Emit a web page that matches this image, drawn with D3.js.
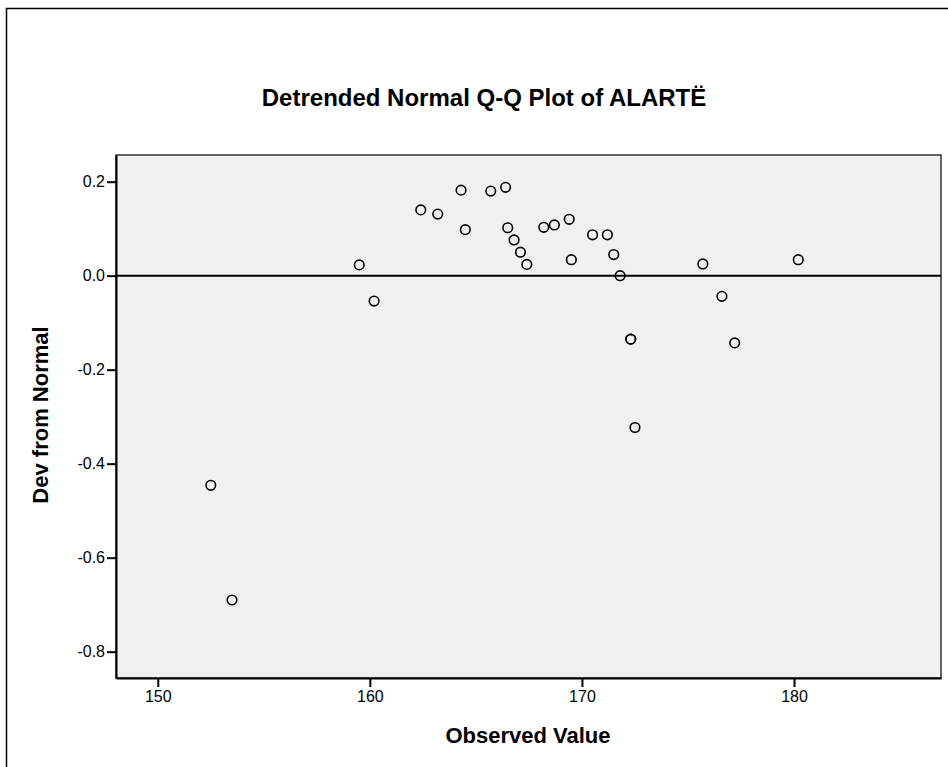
<!DOCTYPE html>
<html>
<head>
<meta charset="utf-8">
<script src="https://cdn.jsdelivr.net/npm/d3@7"></script>
<style>
html,body{margin:0;padding:0;background:#fff;}
svg{display:block;}
text{font-family:"Liberation Sans", Arial, sans-serif;}
</style>
</head>
<body>
<script>
// Data
const observedValues = [152.5, 153.5, 159.5, 160.2, 162.4, 163.2, 164.3, 164.5, 165.7, 166.4,
  166.5, 166.8, 167.1, 167.4, 168.2, 168.7, 169.4, 169.5, 170.5, 171.2,
  171.5, 171.8, 172.3, 172.3, 172.5, 175.7, 176.6, 177.2, 180.2];
const devFromNormal = [-0.446, -0.690, 0.023, -0.054, 0.140, 0.131, 0.182, 0.098, 0.180, 0.188,
  0.102, 0.076, 0.050, 0.024, 0.103, 0.108, 0.120, 0.034, 0.087, 0.087,
  0.045, 0.000, -0.135, -0.135, -0.323, 0.025, -0.044, -0.143, 0.034];
const xTicks = [150, 160, 170, 180];
const yTicks = [0.2, 0.0, -0.2, -0.4, -0.6, -0.8];
const titleText = "Detrended Normal Q-Q Plot of ALARTË";
const xLabel = "Observed Value";
const yLabel = "Dev from Normal";

const W = 948, H = 767;
const plot = {left: 116, right: 941, top: 155, bottom: 678};

const svg = d3.select("body").append("svg").attr("width", W).attr("height", H);

// outer frame
svg.append("rect").attr("x", 6.5).attr("y", 8.5).attr("width", W + 20).attr("height", H + 20)
  .attr("fill", "#fff").attr("stroke", "#000").attr("stroke-width", 1.5);

const x = d3.scaleLinear().domain([148.03, 186.93]).range([plot.left, plot.right]);
const y = d3.scaleLinear().domain([-0.856, 0.2568]).range([plot.bottom, plot.top]);

// plot background
svg.append("rect").attr("x", plot.left).attr("y", plot.top)
  .attr("width", plot.right - plot.left).attr("height", plot.bottom - plot.top)
  .attr("fill", "#f0f0f0").attr("stroke", "#333").attr("stroke-width", 1.5);

// title
svg.append("text").attr("x", 484).attr("y", 106).attr("text-anchor", "middle")
  .attr("font-size", 24).attr("font-weight", "bold").attr("fill", "#000").text(titleText);

// axes
const xAxis = d3.axisBottom(x).tickValues(xTicks).tickFormat(d3.format("d")).tickSizeInner(9).tickSizeOuter(0).tickPadding(4);
const gx = svg.append("g").attr("transform", `translate(0,${plot.bottom})`).call(xAxis);
gx.select(".domain").attr("stroke", "#000").attr("stroke-width", 2);
gx.selectAll(".tick line").attr("stroke", "#000").attr("stroke-width", 2);
gx.selectAll(".tick text").attr("font-size", 16).attr("fill", "#000").attr("font-family", "Liberation Sans, Arial, sans-serif");

const yAxis = d3.axisLeft(y).tickValues(yTicks).tickFormat(d => d3.format(".1f")(d).replace("−", "-")).tickSizeInner(9).tickSizeOuter(0).tickPadding(2);
const gy = svg.append("g").attr("transform", `translate(${plot.left},0)`).call(yAxis);
gy.select(".domain").attr("stroke", "#000").attr("stroke-width", 2);
gy.selectAll(".tick line").attr("stroke", "#000").attr("stroke-width", 2);
gy.selectAll(".tick text").attr("font-size", 16).attr("fill", "#000").attr("font-family", "Liberation Sans, Arial, sans-serif");

// zero reference line
svg.append("line").attr("x1", plot.left).attr("x2", plot.right)
  .attr("y1", y(0)).attr("y2", y(0)).attr("stroke", "#000").attr("stroke-width", 2);

// points
svg.append("g").selectAll("circle").data(observedValues.map((v, i) => [v, devFromNormal[i]]))
  .join("circle").attr("cx", d => x(d[0])).attr("cy", d => y(d[1])).attr("r", 4.8)
  .attr("fill", "none").attr("stroke", "#000").attr("stroke-width", 1.6);

// axis labels
svg.append("text").attr("x", 528).attr("y", 743).attr("text-anchor", "middle")
  .attr("font-size", 22).attr("font-weight", "bold").attr("fill", "#000").text(xLabel);
svg.append("text").attr("transform", `translate(48,415) rotate(-90)`).attr("text-anchor", "middle")
  .attr("font-size", 22).attr("font-weight", "bold").attr("fill", "#000").text(yLabel);
</script>
</body>
</html>
